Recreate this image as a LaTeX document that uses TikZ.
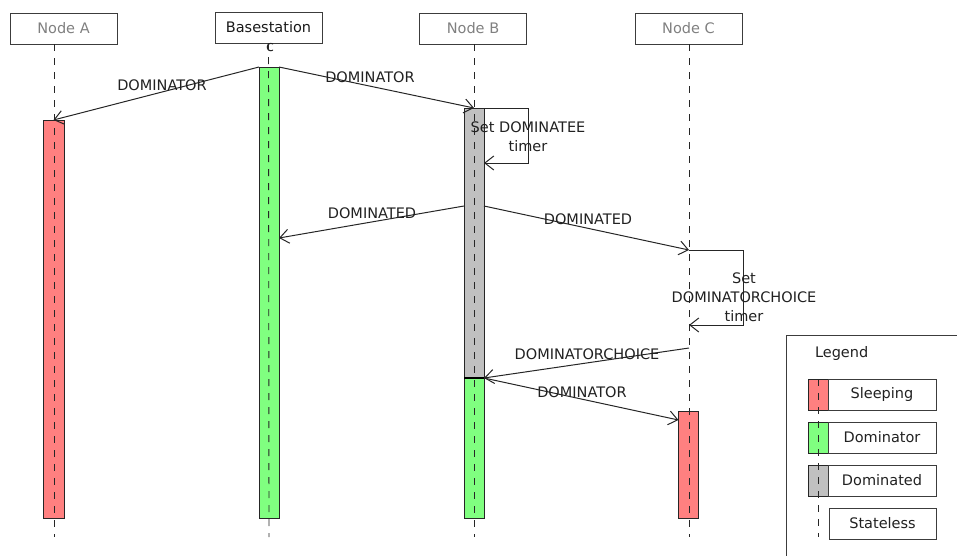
\documentclass[tikz,border=0pt]{standalone}
\usepackage{fontspec}
\setmainfont{DejaVu Sans}
\usetikzlibrary{arrows.meta}
\definecolor{sleepred}{RGB}{255,128,128}
\definecolor{domgreen}{RGB}{128,255,128}
\definecolor{domgray}{RGB}{192,192,192}
\definecolor{framegray}{RGB}{60,60,60}
\begin{document}
\begin{tikzpicture}[x=1pt,y=-1pt,
  every node/.style={font=\fontsize{14.5}{19}\selectfont, inner sep=0pt, outer sep=0pt},
  head/.style={draw=framegray, line width=1pt, minimum width=107pt, minimum height=31pt, text=black!50},
  life/.style={draw=black!85, dash pattern=on 7pt off 7pt, line width=0.9pt},
  bar/.style={draw=black!85, line width=1pt, minimum width=20pt, anchor=north},
  msg/.style={draw=black!85, line width=1pt, -{Straight Barb[length=9pt,width=14pt]}},
  selfmsg/.style={draw=black!85, line width=1pt, -{Straight Barb[length=9pt,width=14pt]}},
  lbl/.style={text=black!87, align=center},
  legbox/.style={draw=framegray, line width=1pt, minimum width=107pt, minimum height=31pt, text=black!87, anchor=north west},
  swatch/.style={draw=black!85, line width=1pt, minimum width=20pt, minimum height=31pt, anchor=north west},
]
\useasboundingbox (0,0) rectangle (957,555);

% participant headers
\node[head] (hA) at (63.5,28.5) {Node A};
\node[head, text=black!90] (hBase) at (268.5,27.5) {Basestation};
\node[lbl] (hBasec) at (270,48) {c};
\node[head] (hB) at (473,28.5) {Node B};
\node[head] (hC) at (688.5,28.5) {Node C};

% activation bars
\node[bar, fill=sleepred, minimum width=21pt, minimum height=398pt] (barA) at (53.5,120) {};
\node[bar, fill=domgreen, minimum height=451pt] (barBase) at (269,67) {};
\node[bar, fill=domgray, minimum height=270pt] (barBgray) at (474,108) {};
\node[bar, fill=domgreen, minimum height=140pt] (barBgreen) at (474,378) {};
\node[bar, fill=sleepred, minimum height=107pt] (barC) at (688.5,411) {};
\draw[black, line width=1.4pt] (barBgreen.north west) -- (barBgreen.north east);

% lifelines
\coordinate (endA) at (54,537);
\coordinate (endBase) at (269,537);
\coordinate (endB) at (474,537);
\coordinate (endC) at (689,537);
\draw[life] (54,44) -- (endA);
\draw[life] (hBase.south) -- (endBase);
\draw[life] (hB.south -| endB) -- (endB);
\draw[life] (hC.south -| endC) -- (endC);

% message end points
\coordinate (m3s) at (464,206);
\coordinate (m3e) at (279,238);
\coordinate (m4s) at (484,206);
\coordinate (m4e) at (689,250);
\coordinate (c1) at (743,250);
\coordinate (c2) at (743,325);
\coordinate (m5e) at (689,325);
\coordinate (m6s) at (689,348);
\coordinate (m7e) at (678.5,420);
\coordinate (b1) at (528,108);
\coordinate (b2) at (528,163);
\coordinate (b3) at (484,163);

% messages
\draw[msg] (barBase.north west) -- (barA.north);
\node[lbl] (l1) at (162,85) {DOMINATOR};
\draw[msg] (barBase.north east) -- (barBgray.north);
\node[lbl] (l2) at (370,77) {DOMINATOR};
\draw[selfmsg] (barBgray.north east) -- (b1) -- (b2) -- (b3);
\node[lbl] (l3) at (528,137) {Set DOMINATEE\\timer};
\draw[msg] (m3s) -- (m3e);
\node[lbl] (l4) at (372,213) {DOMINATED};
\draw[msg] (m4s) -- (m4e);
\node[lbl] (l5) at (588,219) {DOMINATED};
\draw[selfmsg] (m4e) -- (c1) -- (c2) -- (m5e);
\node[lbl] (l6) at (744,297) {Set\\DOMINATORCHOICE\\timer};
\draw[msg] (m6s) -- (barBgreen.north east);
\node[lbl] (l7) at (587,354) {DOMINATORCHOICE};
\draw[msg] (barBgreen.north east) -- (m7e);
\node[lbl] (l8) at (582,392) {DOMINATOR};

% legend
\begin{scope}
\clip (0,0) rectangle (957,555);
\draw[framegray, line width=1pt] (786,335) rectangle (975,575);
\end{scope}
\node[lbl, anchor=west] (legtitle) at (815,353) {Legend};
\node[swatch, fill=sleepred] (sw1) at (808,379) {};
\node[legbox, minimum width=108pt] (lb1) at (sw1.north east) {Sleeping};
\node[swatch, fill=domgreen] (sw2) at (808,422) {};
\node[legbox, minimum width=108pt] (lb2) at (sw2.north east) {Dominator};
\node[swatch, fill=domgray] (sw3) at (808,465) {};
\node[legbox, minimum width=108pt] (lb3) at (sw3.north east) {Dominated};
\node[legbox, minimum width=107pt] (lb4) at (829,508) {Stateless};
\coordinate (legend) at (818,537);
\draw[life] (sw1.north) coordinate (legtop) -- (legend);
\end{tikzpicture}
\end{document}
